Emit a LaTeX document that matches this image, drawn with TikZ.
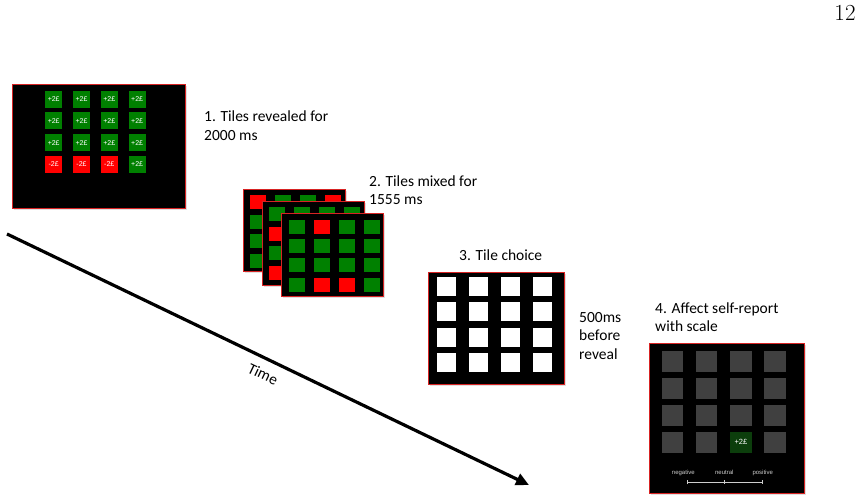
\documentclass[tikz,border=0pt]{standalone}
\usepackage{fontspec}
\newfontfamily\calfont{Carlito}
\newfontfamily\arialfont{Liberation Sans}
\usepackage{tikz}
\usetikzlibrary{arrows.meta, shadows}
\definecolor{TileGreen}{RGB}{0,128,0}
\definecolor{TileRed}{RGB}{255,0,0}
\definecolor{TileGray}{RGB}{64,64,64}
\definecolor{TileDark}{RGB}{12,62,12}
\definecolor{FrameRed}{RGB}{215,35,35}
\definecolor{ScaleGray}{RGB}{205,205,205}
\colorlet{mixG}{TileGreen}
\colorlet{mixR}{TileRed}

\begin{document}
\begin{tikzpicture}[x=1pt, y=-1pt,
    screen/.style={rectangle, fill=black, draw=FrameRed, line width=0.8pt,
                   anchor=north west, inner sep=0pt,
                   drop shadow={opacity=0.25, shadow xshift=1.5pt, shadow yshift=-1.5pt}},
    revtile/.style={rectangle, inner sep=0pt, minimum width=17pt, minimum height=17pt,
                    text=white, font=\arialfont\fontsize{7}{8}\selectfont},
    mixtile/.style={rectangle, inner sep=0pt, minimum width=16pt, minimum height=14pt},
    choicetile/.style={rectangle, fill=white, inner sep=0pt, minimum width=19pt, minimum height=19pt},
    ratetile/.style={rectangle, fill=TileGray, inner sep=0pt, minimum width=21.5pt,
                     minimum height=21pt, text=white, font=\arialfont\fontsize{7.5}{8}\selectfont},
    steplabel/.style={anchor=west, align=left, inner xsep=0pt,
                      font=\calfont\fontsize{15.5}{18.5}\selectfont},
    scaletext/.style={text=ScaleGray, font=\arialfont\fontsize{6}{7}\selectfont},
    scaleline/.style={draw=ScaleGray, line width=0.6pt},
    timearr/.style={-{Triangle[length=13pt, width=12pt]}, line width=3.2pt}
  ]
  \useasboundingbox (0,0) rectangle (862,502);

  % page number
  \node[font=\fontsize{23}{27}\selectfont] (pnum) at (845,13) {12};

  % 1. tiles revealed
  \node[screen, minimum width=173pt, minimum height=124pt] (s1) at (12,84) {};
  \foreach \r in {0,...,3}
    \foreach \c in {0,...,3} {
      \ifnum\r=3 \ifnum\c<3 \def\tcol{TileRed}\def\tlab{-2£}\else\def\tcol{TileGreen}\def\tlab{+2£}\fi
      \else \def\tcol{TileGreen}\def\tlab{+2£}\fi
      \node[revtile, fill=\tcol] (s1-\r-\c) at ({53.7+27.8*\c},{99.3+21.7*\r}) {\tlab};
    }
  \node[steplabel] (l1) at (204,125.5) {1. Tiles revealed for\\2000 ms};

  % 2. tiles mixed (three stacked screens)
  \node[screen, minimum width=102pt, minimum height=82pt] (bk) at (243,189) {};
  \foreach \col [count=\i from 0] in {mixR,mixG,mixG,mixR, mixG,mixG,mixG,mixG,
                                      mixG,mixG,mixG,mixG, mixG,mixG,mixG,mixG} {
    \pgfmathtruncatemacro\r{div(\i,4)}
    \pgfmathtruncatemacro\c{mod(\i,4)}
    \node[mixtile, fill=\col] (bk-\r-\c) at ({257.5+25*\c},{202.5+19.5*\r}) {};
  }
  \node[screen, minimum width=102pt, minimum height=84pt] (md) at (262,201) {};
  \foreach \col [count=\i from 0] in {mixG,mixG,mixG,mixG, mixR,mixG,mixG,mixG,
                                      mixG,mixG,mixG,mixG, mixR,mixG,mixG,mixG} {
    \pgfmathtruncatemacro\r{div(\i,4)}
    \pgfmathtruncatemacro\c{mod(\i,4)}
    \node[mixtile, fill=\col] (md-\r-\c) at ({276.5+25*\c},{214.5+19.5*\r}) {};
  }
  \node[screen, minimum width=102pt, minimum height=83pt] (fr) at (281,213) {};
  \foreach \col [count=\i from 0] in {mixG,mixR,mixG,mixG, mixG,mixG,mixG,mixG,
                                      mixG,mixG,mixG,mixG, mixG,mixR,mixR,mixG} {
    \pgfmathtruncatemacro\r{div(\i,4)}
    \pgfmathtruncatemacro\c{mod(\i,4)}
    \node[mixtile, fill=\col] (fr-\r-\c) at ({296.7+25.2*\c},{226.7+19.4*\r}) {};
  }
  \node[steplabel] (l2) at (369,190) {2. Tiles mixed for\\1555 ms};

  % 3. tile choice
  \node[screen, minimum width=136pt, minimum height=112pt] (s3) at (428,272) {};
  \foreach \r in {0,...,3}
    \foreach \c in {0,...,3}
      \node[choicetile] (s3-\r-\c) at ({446.3+32.1*\c},{286.3+25.5*\r}) {};
  \node[steplabel] (l3) at (459,255) {3. Tile choice};
  \node[steplabel] (delay) at (579,336) {500ms\\before\\reveal};

  % 4. affect rating with scale
  \node[screen, minimum width=155pt, minimum height=150pt] (s4) at (649,343) {};
  \foreach \r in {0,...,3}
    \foreach \c in {0,...,3} {
      \ifnum\r=3 \ifnum\c=2 \def\tcol{TileDark}\def\tlab{+2£}\else\def\tcol{TileGray}\def\tlab{}\fi
      \else \def\tcol{TileGray}\def\tlab{}\fi
      \node[ratetile, fill=\tcol] (s4-\r-\c) at ({672.5+34.2*\c},{361.3+27*\r}) {\tlab};
    }
  \node[scaletext] (neg) at (683.3,472.7) {negative};
  \node[scaletext] (neu) at (724.3,472.7) {neutral};
  \node[scaletext] (pos) at (762.7,472.7) {positive};
  \coordinate (sl) at (686.7,482.3);
  \coordinate (sm) at (724.3,482.3);
  \coordinate (sr) at (762.3,482.3);
  \draw[scaleline, {Bar[width=4pt]}-{Bar[width=4pt]}] (sl) -- (sr);
  \draw[scaleline] ([yshift=2pt]sm) -- ([yshift=-2pt]sm);
  \node[steplabel] (l4) at (655,317) {4. Affect self-report\\with scale};

  % time axis
  \coordinate (tstart) at (7,234);
  \coordinate (tend) at (529,485);
  \draw[timearr] (tstart) -- (tend);
  \node[font=\calfont\fontsize{15.5}{18}\selectfont, rotate=-25.5] (time) at (263,374) {Time};
\end{tikzpicture}
\end{document}
